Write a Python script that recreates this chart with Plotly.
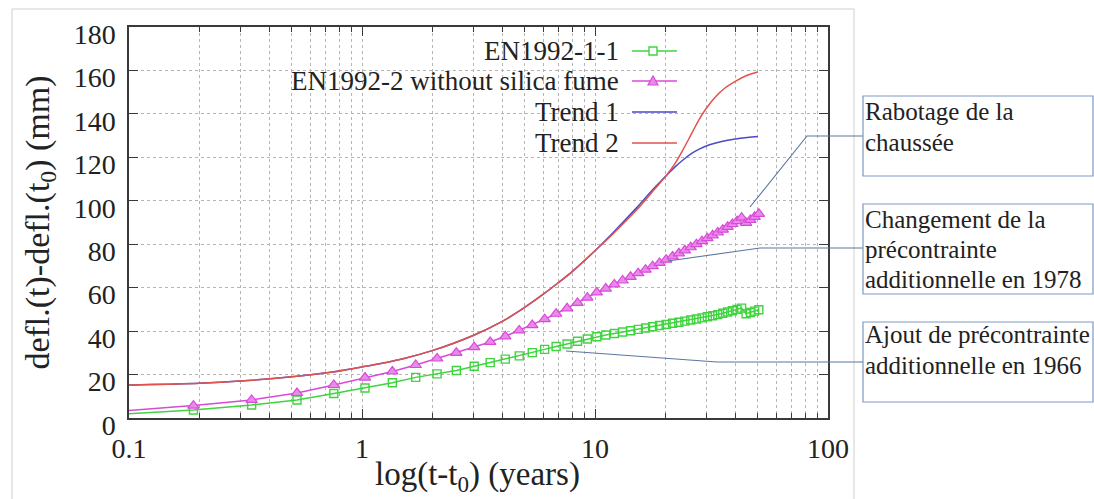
import plotly.graph_objects as go

# ---------------- data ----------------
T_EN = [0.084, 0.189, 0.336, 0.526, 0.757, 1.03, 1.35, 1.70, 2.10, 2.54, 3.03, 3.55,
        4.12, 4.73, 5.38, 6.08, 6.81, 7.59, 8.41, 9.27, 10.18, 11.12, 12.11, 13.14,
        14.21, 15.33, 16.48, 17.68, 18.92, 20.20, 21.53, 22.90, 24.30, 25.76, 27.25,
        28.78, 30.36, 31.98, 33.64, 35.34, 37.09, 38.88, 40.70, 42.58, 44.49, 46.44,
        48.44, 50.48]
EN1992_1_1 = [1.5, 3.7, 6.0, 8.3, 11.3, 13.8, 16.2, 18.7, 20.3, 21.9, 23.8, 25.5,
              27.1, 28.6, 30.1, 31.6, 32.9, 34.1, 35.3, 36.4, 37.4, 38.2, 38.9, 39.6,
              40.2, 40.8, 41.4, 42.0, 42.6, 43.1, 43.6, 44.1, 44.6, 45.1, 45.6, 46.1,
              46.6, 47.1, 47.6, 48.2, 48.8, 49.4, 50.0, 50.6, 48.0, 48.6, 49.2, 49.8]
EN1992_2 = [2.8, 5.7, 8.3, 11.5, 15.2, 18.6, 21.4, 24.4, 27.4, 30.0, 32.6, 35.0,
            37.6, 40.3, 42.8, 45.5, 48.0, 50.5, 53.0, 55.4, 57.8, 59.6, 61.5, 63.3,
            65.0, 66.7, 68.3, 69.9, 71.4, 72.9, 74.4, 75.8, 77.2, 78.6, 80.0, 81.4,
            82.8, 84.1, 85.4, 86.7, 88.0, 89.3, 90.6, 92.2, 89.8, 91.2, 92.6, 94.0]

T1_X = [0.08, 0.1, 0.2, 0.3, 0.5, 0.75, 1.0, 1.5, 2.0, 3.0, 4.0, 5.0, 6.0, 7.0, 8.0,
        10.0, 12.0, 15.0, 18.0, 20.0, 22.0, 24.0, 26.0, 28.0, 31.0, 35.0, 40.0, 45.0, 50.0]
TREND1 = [15.0, 15.2, 16.0, 17.0, 19.0, 21.2, 23.5, 27.3, 31.0, 38.0, 44.5, 51.0, 57.0,
          62.5, 67.5, 77.0, 85.5, 96.5, 106.0, 111.0, 115.5, 119.0, 121.8, 123.8, 125.8,
          127.3, 128.4, 129.1, 129.6]
T2_X = [0.08, 0.1, 0.2, 0.3, 0.5, 0.75, 1.0, 1.5, 2.0, 3.0, 4.0, 5.0, 6.0, 7.0, 8.0,
        10.0, 12.0, 15.0, 18.0, 20.0, 22.0, 24.0, 26.0, 28.0, 30.0, 33.0, 36.0, 40.0,
        45.0, 50.0]
TREND2 = [15.0, 15.2, 16.0, 17.0, 19.0, 21.2, 23.5, 27.3, 31.0, 38.0, 44.5, 51.0, 57.0,
          62.5, 67.5, 77.0, 85.0, 95.5, 105.3, 111.0, 117.0, 124.0, 131.0, 137.5, 142.5,
          148.0, 151.8, 155.0, 157.8, 159.3]

X_TICKS = [0.1, 1, 10, 100]
X_TICK_TEXT = ["0.1", "1", "10", "100"]
X_MINOR = [m * d for d in (0.1, 1, 10) for m in range(2, 10)]
Y_TICKS = list(range(0, 181, 20))

X_TITLE = "log(t-t<sub>0</sub>) (years)"
Y_TITLE = "defl.(t)-defl.(t<sub>0</sub>) (mm)"
LEGEND_NAMES = ["EN1992-1-1", "EN1992-2 without silica fume", "Trend 1", "Trend 2"]
NOTES = [["Rabotage de la", "chaussée"],
         ["Changement de la", "précontrainte", "additionnelle en 1978"],
         ["Ajout de précontrainte", "additionnelle en 1966"]]

# ---------------- styling ----------------
GREEN = "#3fd43f"
MAGENTA = "#d94ad9"
MAG_FILL = "#e88ae8"
BLUE = "#4a4ac4"
RED = "#e2524c"
FONT = "Liberation Serif"
TXT = "#222222"

W, H = 1094, 499
L, R, T, B = 129, 828, 27, 418


def px(x):
    return (x - L) / (R - L)


def py(y):
    return (B - y) / (B - T)


fig = go.Figure()

fig.add_trace(go.Scatter(x=T_EN, y=EN1992_1_1, mode="lines+markers", name=LEGEND_NAMES[0],
                         line=dict(color=GREEN, width=1.5),
                         marker=dict(symbol="square-open", size=8, color=GREEN,
                                     line=dict(width=1.4, color=GREEN)),
                         showlegend=False))
fig.add_trace(go.Scatter(x=T_EN, y=EN1992_2, mode="lines+markers", name=LEGEND_NAMES[1],
                         line=dict(color=MAGENTA, width=1.5),
                         marker=dict(symbol="triangle-up", size=10, color=MAG_FILL,
                                     line=dict(width=1.2, color=MAGENTA)),
                         showlegend=False))
fig.add_trace(go.Scatter(x=T1_X, y=TREND1, mode="lines", name=LEGEND_NAMES[2],
                         line=dict(color=BLUE, width=1.5, shape="spline", smoothing=1.0),
                         showlegend=False))
fig.add_trace(go.Scatter(x=T2_X, y=TREND2, mode="lines", name=LEGEND_NAMES[3],
                         line=dict(color=RED, width=1.5, shape="spline", smoothing=1.0),
                         showlegend=False))

shapes = []
# outer light frame
shapes.append(dict(type="rect", xref="paper", yref="paper",
                   x0=px(12), x1=px(854), y0=py(530), y1=py(9),
                   line=dict(color="#cfcfcf", width=1), fillcolor="rgba(0,0,0,0)",
                   layer="below"))
# legend background
shapes.append(dict(type="rect", xref="paper", yref="paper",
                   x0=px(270), x1=px(684), y0=py(158), y1=py(28),
                   line=dict(width=0), fillcolor="white", layer="between"))

legend_rows = [51, 81, 112, 143]
legend_cols = [GREEN, MAGENTA, BLUE, RED]
annotations = []
for name, yy, col in zip(LEGEND_NAMES, legend_rows, legend_cols):
    annotations.append(dict(xref="paper", yref="paper", x=px(621), y=py(yy),
                            xanchor="right", yanchor="middle", showarrow=False,
                            text=name, font=dict(family=FONT, size=27, color=TXT)))
    shapes.append(dict(type="line", xref="paper", yref="paper",
                       x0=px(632), x1=px(677), y0=py(yy), y1=py(yy),
                       line=dict(color=col, width=1.5)))
# legend marker samples
shapes.append(dict(type="rect", xref="paper", yref="paper",
                   x0=px(649), x1=px(657), y0=py(55), y1=py(47),
                   line=dict(color=GREEN, width=1.4), fillcolor="white"))
tx, ty = 653, 81
shapes.append(dict(type="path", xref="paper", yref="paper",
                   path=f"M {px(tx-5)} {py(ty+4)} L {px(tx+5)} {py(ty+4)} L {px(tx)} {py(ty-5)} Z",
                   line=dict(color=MAGENTA, width=1.2), fillcolor=MAG_FILL))

# x axis title (as annotation for exact placement)
annotations.append(dict(xref="paper", yref="paper", x=px(477), y=py(498),
                        xanchor="center", yanchor="bottom", showarrow=False,
                        borderpad=0,
                        text=X_TITLE, font=dict(family=FONT, size=33, color=TXT)))

# annotation boxes
BOX_LINE = "#7c99c2"
LEAD = "#5a769e"
boxes = [(96, 176), (204, 294), (322, 402)]
for (y0, y1) in boxes:
    shapes.append(dict(type="rect", xref="paper", yref="paper",
                       x0=px(863), x1=px(1093), y0=py(y1), y1=py(y0),
                       line=dict(color=BOX_LINE, width=1.2), fillcolor="rgba(0,0,0,0)"))
line_centers = [[112, 142], [219, 249, 279], [334, 365]]
for lines, centers in zip(NOTES, line_centers):
    for txt, cy in zip(lines, centers):
        annotations.append(dict(xref="paper", yref="paper", x=px(863), y=py(cy),
                                xanchor="left", yanchor="middle", showarrow=False,
                                text=txt, font=dict(family=FONT, size=25, color=TXT)))
# leader lines
leaders = [[(750, 207), (807, 136), (863, 136)],
           [(668, 261), (760, 248), (863, 248)],
           [(566, 351), (717, 362), (863, 362)]]
for pts in leaders:
    path = "M " + " L ".join(f"{px(a)} {py(b)}" for a, b in pts)
    shapes.append(dict(type="path", xref="paper", yref="paper", path=path,
                       line=dict(color=LEAD, width=1.1)))

axis_common = dict(showline=True, linecolor="#3a3a3a", linewidth=1.5, mirror="ticks",
                   ticks="inside", tickcolor="#3a3a3a", tickwidth=1.2,
                   tickfont=dict(family=FONT, size=28, color=TXT),
                   showgrid=True, gridcolor="#b5b5b5", griddash="dot", gridwidth=1,
                   zeroline=False, automargin=False)

fig.update_layout(
    width=W, height=H,
    margin=dict(l=L, r=W - R, t=T, b=H - B, pad=0, autoexpand=False),
    paper_bgcolor="white", plot_bgcolor="white",
    showlegend=False,
    shapes=shapes, annotations=annotations,
    xaxis=dict(type="log", range=[-1, 2], tickvals=X_TICKS, ticktext=X_TICK_TEXT,
               ticklen=9, ticklabelstandoff=5,
               minor=dict(tickvals=X_MINOR, ticks="inside", ticklen=5, tickcolor="#3a3a3a",
                          showgrid=True, gridcolor="#b5b5b5", griddash="dot", gridwidth=1),
               **axis_common),
    yaxis=dict(range=[0, 180], tickvals=Y_TICKS, ticklen=9, ticklabelstandoff=6,
               ticklabelshift=7,
               title=dict(text=Y_TITLE,
                          font=dict(family=FONT, size=34, color=TXT), standoff=14),
               **axis_common),
)

fig.write_html("out.html")
